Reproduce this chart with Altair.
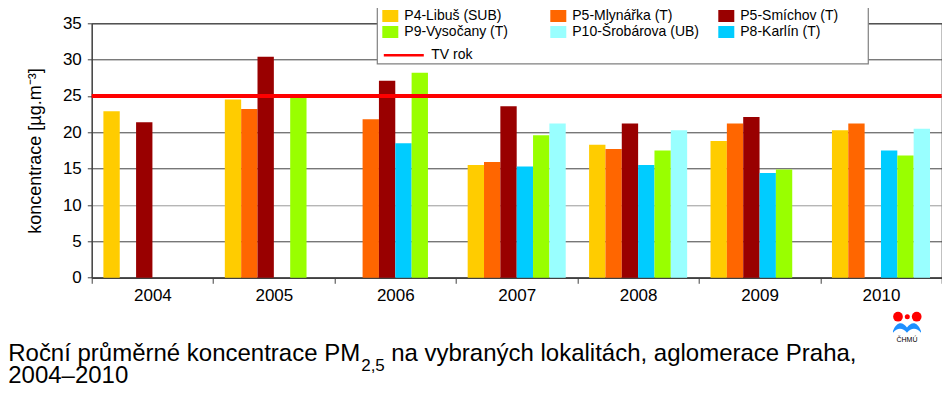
import altair as alt
import pandas as pd

# ---------------- data ----------------
years = ["2004", "2005", "2006", "2007", "2008", "2009", "2010"]

# bar order inside each year group
stations = ["P4-Libuš (SUB)", "P5-Mlynářka (T)", "P5-Smíchov (T)",
            "P8-Karlín (T)", "P9-Vysočany (T)", "P10-Šrobárova (UB)"]
# legend order (row by row, 3 columns)
legend_order = ["P4-Libuš (SUB)", "P5-Mlynářka (T)", "P5-Smíchov (T)",
                "P9-Vysočany (T)", "P10-Šrobárova (UB)", "P8-Karlín (T)"]
legend_colors = ["#FFCC00", "#FF6600", "#990000", "#99FF00", "#99FFFF", "#00CCFF"]

p4_libus = [22.9, 24.5, None, 15.5, 18.3, 18.8, 20.3]
p5_mlynarka = [None, 23.2, 21.8, 15.9, 17.7, 21.2, 21.2]
p5_smichov = [21.4, 30.4, 27.1, 23.6, 21.2, 22.1, None]
p8_karlin = [None, None, 18.5, 15.3, 15.5, 14.4, 17.5]
p9_vysocany = [None, 24.8, 28.2, 19.6, 17.5, 14.9, 16.8]
p10_srobarova = [None, None, None, 21.2, 20.3, None, 20.5]

limit_label = "TV rok"
limit_value = 25

y_ticks = [0, 5, 10, 15, 20, 25, 30, 35]
y_title = "koncentrace [µg.m⁻³]"
caption_main = "Roční průměrné koncentrace PM"
caption_sub = "2,5"
caption_rest = "na vybraných lokalitách, aglomerace Praha,"
caption_line2 = "2004–2010"
logo_text = "ČHMÚ"

series = [p4_libus, p5_mlynarka, p5_smichov, p8_karlin, p9_vysocany, p10_srobarova]
rows = []
for st, vals in zip(stations, series):
    for yr, v in zip(years, vals):
        if v is not None:
            rows.append({"year": yr, "station": st, "value": v})
df = pd.DataFrame(rows)

FONT = "Liberation Sans"
W, H = 850, 254.4

y_enc = alt.Y("value:Q",
              scale=alt.Scale(domain=[0, 35], nice=False, zero=True),
              axis=alt.Axis(values=y_ticks, tickCount=8, labelOverlap=False, title=y_title,
                            titleFont=FONT, titleFontSize=18, titleFontWeight="normal",
                            titleColor="black", titlePadding=18,
                            labelFont=FONT, labelFontSize=17, labelColor="black",
                            labelPadding=6, tickSize=4.4, tickColor="#404040",
                            domainColor="#404040", domainWidth=1.2,
                            grid=True, gridWidth=1,
                            gridColor={"condition": {"test": "datum.value == 10", "value": "#9a9a9a"},
                                       "value": "#404040"}))

bars = alt.Chart(df).mark_bar().encode(
    x=alt.X("year:N",
            scale=alt.Scale(domain=years, paddingInner=0, paddingOuter=0),
            axis=alt.Axis(title=None, labelAngle=0, tickBand="extent",
                          labelFont=FONT, labelFontSize=17, labelColor="black",
                          labelPadding=4, tickSize=5.6, tickColor="#404040",
                          domainColor="#404040", domainWidth=1.5, grid=False)),
    xOffset=alt.XOffset("station:N",
                        scale=alt.Scale(domain=stations, paddingInner=0, paddingOuter=0.715)),
    y=y_enc,
    color=alt.Color("station:N",
                    scale=alt.Scale(domain=legend_order, range=legend_colors),
                    legend=alt.Legend(title=None, orient="none", legendX=290.6, legendY=-15.3,
                                      direction="horizontal",
                                      columns=3, gridAlign="all", columnPadding=19, rowPadding=1,
                                      symbolType="M-1,-0.75L1,-0.75L1,0.75L-1,0.75Z",
                                      symbolSize=256, symbolStrokeWidth=0, symbolOpacity=1,
                                      labelFont=FONT, labelFontSize=14, labelColor="black",
                                      labelOffset=6, labelLimit=250, padding=0)),
)

limit_df = pd.DataFrame({"label": [limit_label], "value": [limit_value]})
rule = alt.Chart(limit_df).mark_rule(strokeWidth=4).encode(
    y=y_enc,
    stroke=alt.Stroke("label:N",
                      scale=alt.Scale(domain=[limit_label], range=["#FF0000"]),
                      legend=alt.Legend(title=None, orient="none", legendX=290.6, legendY=10.5,
                                        symbolType="stroke", symbolSize=1600,
                                        symbolStrokeWidth=2.5,
                                        labelFont=FONT, labelFontSize=14, labelColor="black",
                                        labelOffset=6, padding=0)),
)

one = pd.DataFrame({"k": [0]})

frame = alt.Chart(one).mark_rect(fill="white", stroke="#808080", strokeWidth=1.2).encode(
    x=alt.value(285.6), x2=alt.value(776.6), y=alt.value(-16), y2=alt.value(40.5)
)


def txt(text, x, y, size, align="left", color="black", baseline="alphabetic"):
    return alt.Chart(one).mark_text(text=text, align=align, baseline=baseline, font=FONT,
                                    fontSize=size, color=color).encode(
        x=alt.value(x), y=alt.value(y))


cap1 = txt(caption_main, -83.5, 338.0, 24)
cap_sub = txt(caption_sub, 269.5, 348.0, 17)
cap2 = txt(caption_rest, 299.5, 338.0, 24)
cap3 = txt(caption_line2, -83.5, 359.7, 24)

# CHMU logo
logo_red = alt.Chart(one).mark_point(filled=True, color="#FF0000", opacity=1, size=95).encode(
    x=alt.value(806.3), y=alt.value(293.4))
logo_red2 = alt.Chart(one).mark_point(filled=True, color="#FF0000", opacity=1, size=95).encode(
    x=alt.value(825.0), y=alt.value(293.4))
logo_red3 = alt.Chart(one).mark_point(filled=True, color="#FF0000", opacity=1, size=25).encode(
    x=alt.value(815.6), y=alt.value(293.4))
wave_path = ("M-1,0.3 C-0.75,-0.4 -0.3,-0.4 0,0.05 C0.3,-0.4 0.75,-0.4 1,0.3 "
             "L1,0.42 C0.7,0.05 0.3,0.05 0,0.42 C-0.3,0.05 -0.7,0.05 -1,0.42 Z")
logo_wave = alt.Chart(one).mark_point(filled=True, color="#1E90FF", opacity=1, size=784,
                                      shape=wave_path).encode(
    x=alt.value(815.3), y=alt.value(303.5))
logo_lbl = txt(logo_text, 815.3, 318.4, 7, align="center")

chart = alt.layer(
    bars, rule, frame, cap1, cap_sub, cap2, cap3,
    logo_red, logo_red2, logo_red3, logo_wave, logo_lbl
).properties(
    width=W, height=H,
    padding={"left": 83.7, "top": 15.3, "right": 0.3, "bottom": 112},
    autosize=alt.AutoSizeParams(type="none"),
    background="white",
).configure_view(stroke="#404040", strokeWidth=1)

chart.save("out.html", embed_options={"renderer": "svg", "actions": False})
